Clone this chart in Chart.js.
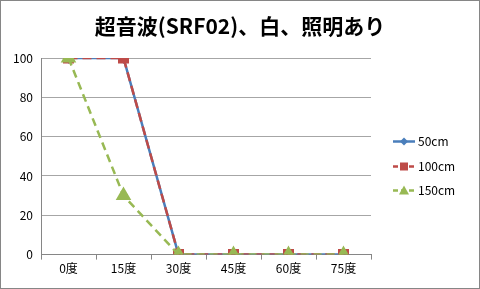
<!DOCTYPE html>
<html>
<head>
<meta charset="utf-8">
<script src="https://cdn.jsdelivr.net/npm/chart.js@4"></script>
<style>
  html, body { margin: 0; padding: 0; background: #fff; }
  #wrap { width: 480px; height: 289px; }
</style>
</head>
<body>
<div id="wrap"><canvas id="myChart" width="480" height="289"></canvas></div>
<script>
const categories = ['0度', '15度', '30度', '45度', '60度', '75度'];
const values50 = [100, 100, 0, 0, 0, 0];
const values100 = [100, 100, 0, 0, 0, 0];
const values150 = [100, 30, 0, 0, 0, 0];
const seriesNames = ['50cm', '100cm', '150cm'];
const yTicks = [0, 20, 40, 60, 80, 100];
const chartTitle = '超音波(SRF02)、白、照明あり';

const FONT = '"Noto Sans CJK JP", "Noto Sans", sans-serif';
const BLUE = '#4a7ebb';
const RED = '#be4b48';
const GREEN = '#98b954';

// frame, centred title and a legend with line sample + marker
const excelLook = {
  id: 'excelLook',
  beforeDraw(chart) {
    const c = chart.ctx;
    c.save();
    c.fillStyle = '#fff';
    c.fillRect(0, 0, chart.width, chart.height);
    c.restore();
  },
  afterDraw(chart) {
    const c = chart.ctx;
    c.save();
    c.strokeStyle = '#868686';
    c.lineWidth = 1;
    c.strokeRect(0.5, 0.5, chart.width - 1, chart.height - 1);

    c.fillStyle = '#000';
    c.font = 'bold 21px ' + FONT;
    c.textAlign = 'center';
    c.textBaseline = 'middle';
    c.fillText(chartTitle, chart.width / 2, 26);

    const area = chart.chartArea;
    const x0 = area.right + 22;
    c.textAlign = 'left';
    chart.data.datasets.forEach(function (ds, i) {
      const y = Math.round(area.top + 83 + i * 24.5) + 0.5;
      c.strokeStyle = ds.borderColor;
      c.lineWidth = 2.5;
      c.setLineDash(ds.borderDash ? [5, 3] : []);
      c.beginPath();
      c.moveTo(x0, y);
      c.lineTo(x0 + 22, y);
      c.stroke();
      c.setLineDash([]);
      c.fillStyle = ds.pointBackgroundColor;
      const mx = x0 + 11;
      if (ds.pointStyle === 'rectRot') {
        c.beginPath();
        c.moveTo(mx, y - 4); c.lineTo(mx + 4, y); c.lineTo(mx, y + 4); c.lineTo(mx - 4, y);
        c.closePath(); c.fill();
      } else if (ds.pointStyle === 'rect') {
        c.fillRect(mx - 4, y - 4, 8, 8);
      } else {
        c.beginPath();
        c.moveTo(mx, y - 5); c.lineTo(mx + 5, y + 4); c.lineTo(mx - 5, y + 4);
        c.closePath(); c.fill();
      }
      c.fillStyle = '#000';
      c.font = '12px ' + FONT;
      c.textBaseline = 'middle';
      c.fillText(ds.label, x0 + 25, y);
    });
    c.restore();
  }
};

const ctx = document.getElementById('myChart');
new Chart(ctx, {
  type: 'line',
  data: {
    labels: categories,
    datasets: [{
      label: seriesNames[0],
      data: values50,
      borderColor: BLUE,
      borderWidth: 2.5,
      pointStyle: 'rectRot',
      pointRadius: 4,
      pointBackgroundColor: BLUE,
      pointBorderColor: BLUE,
      order: 3
    }, {
      label: seriesNames[1],
      data: values100,
      borderColor: RED,
      borderWidth: 2.5,
      borderDash: [9, 5],
      pointStyle: 'rect',
      pointRadius: 6,
      pointBackgroundColor: RED,
      pointBorderColor: RED,
      order: 2
    }, {
      label: seriesNames[2],
      data: values150,
      borderColor: GREEN,
      borderWidth: 2.5,
      borderDash: [8, 5],
      pointStyle: 'triangle',
      pointRadius: 6.5,
      pointBackgroundColor: GREEN,
      pointBorderColor: GREEN,
      order: 1
    }]
  },
  options: {
    responsive: false,
    animation: false,
    devicePixelRatio: 1,
    layout: { padding: { left: 0, right: 109, top: 58, bottom: 11 } },
    plugins: {
      legend: { display: false },
      tooltip: { enabled: false },
      title: { display: false }
    },
    scales: {
      x: {
        offset: true,
        grid: {
          offset: true,
          drawOnChartArea: false,
          drawTicks: true,
          tickLength: 5,
          color: '#868686'
        },
        border: { color: '#868686' },
        ticks: {
          color: '#000',
          font: { family: FONT, size: 12 },
          padding: 2,
          maxRotation: 0
        }
      },
      y: {
        min: 0,
        max: 100,
        afterFit: function (scale) { scale.width = 41; },
        afterBuildTicks: function (scale) {
          scale.ticks = yTicks.map(function (v) { return { value: v }; });
        },
        grid: { color: '#a6a6a6', drawTicks: false, lineWidth: 1 },
        border: { color: '#868686' },
        ticks: {
          color: '#000',
          font: { family: FONT, size: 12 },
          padding: 8
        }
      }
    }
  },
  plugins: [excelLook]
});
</script>
</body>
</html>
